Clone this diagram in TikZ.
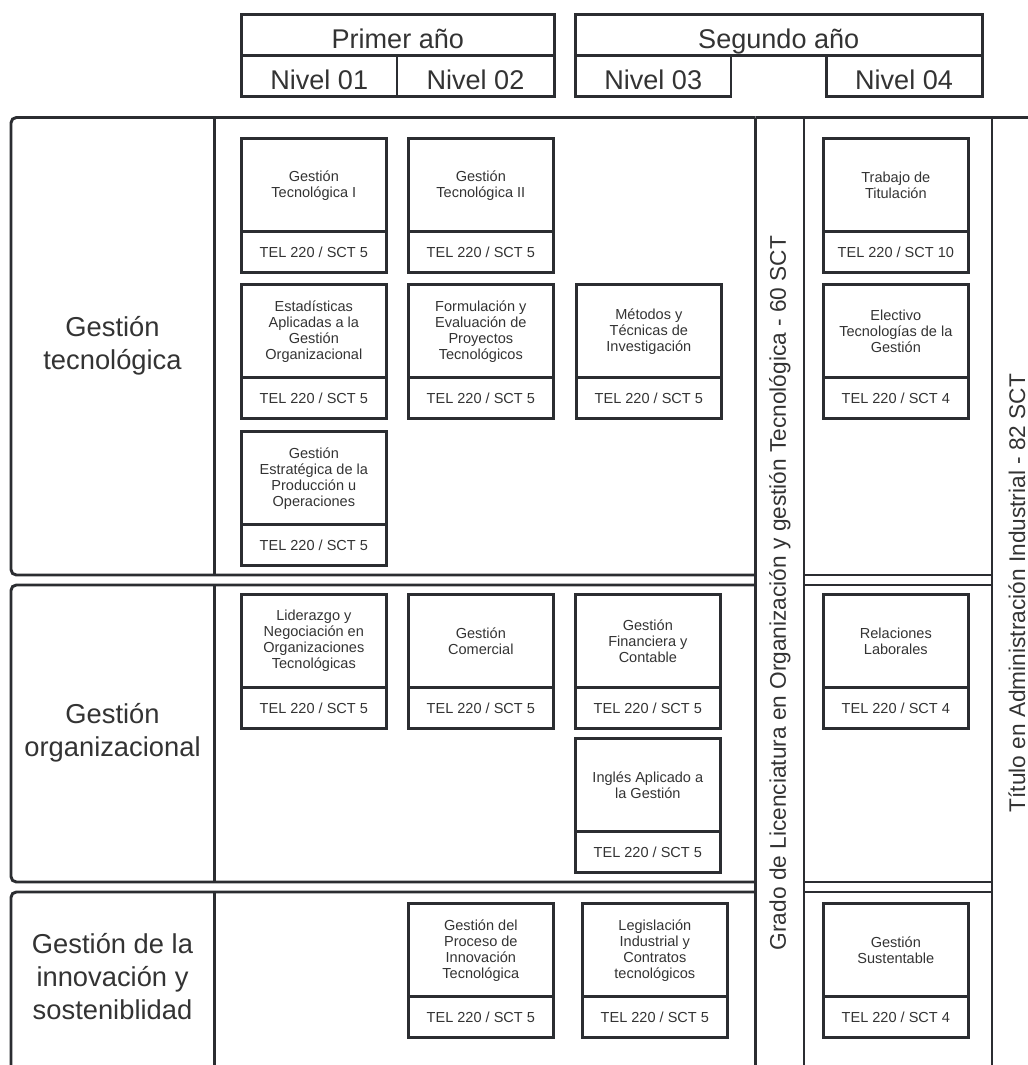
\documentclass[tikz,border=0pt]{standalone}
\usepackage{fontspec}
\setmainfont{Liberation Sans}
\usetikzlibrary{positioning}
\definecolor{linea}{HTML}{2B2D31}
\definecolor{texto}{HTML}{333333}
\newcommand{\curso}[5]
{
	\node[titulo] at (#2, #3) (#1){#4};
	\node[creditos, below=0pt of #1] (#1c){#5};
}

\begin{document}
\begin{tikzpicture}[x=0.75pt, y=-0.75pt,
	line width=2.2pt, draw=linea,
	every node/.append style={draw=linea, line width=2.2pt, text=texto,
		outer sep=0pt, inner sep=0pt},
	anio/.style={anchor=north west, minimum height=30.4pt, text height=21pt, text depth=0pt,
		font=\fontsize{20.3}{24}\selectfont},
	nivel/.style={anchor=north west, minimum height=30.75pt, text height=21pt, text depth=0pt,
		font=\fontsize{20.3}{24}\selectfont},
	titulo/.style={anchor=north west, minimum width=108.5pt, minimum height=70pt,
		align=center, font=\fontsize{10.9}{12}\selectfont},
	creditos/.style={minimum width=108.5pt, minimum height=30.75pt,
		font=\fontsize{10.9}{12}\selectfont},
	eje/.style={draw=none, align=center, font=\fontsize{20.5}{24.75}\selectfont},
	grado/.style={draw=none, rotate=90, font=\fontsize{17}{20}\selectfont}]

	\clip (0,0) rectangle (1028,1065);

	\node[anio, minimum width=234.4pt] at (241.5, 14.5) (pa){Primer año};
	\node[nivel, minimum width=116.6pt] at (pa.south west) (n1){Nivel 01};
	\node[nivel, minimum width=117.8pt] at (n1.north east) (n2){Nivel 02};
	\node[anio, minimum width=304.9pt] at (575.5, 14.5) (sa){Segundo año};
	\node[nivel, minimum width=116.6pt] at (sa.south west) (n3){Nivel 03};
	\node[nivel, anchor=north east, minimum width=117pt] at (sa.south east) (n4){Nivel 04};

	\draw (755.5,117.5) [rounded corners=4pt] -- (11,117.5) -- (11,575) -- (755.5,575);
	\draw (755.5,585) [rounded corners=4pt] -- (11,585) -- (11,882) -- (755.5,882);
	\draw (755.5,892) [rounded corners=4pt] -- (11,892) -- (11,1090) -- (755.5,1090);
	\draw (214.5,117.5) -- (214.5,575);
	\draw (214.5,585) -- (214.5,882);
	\draw (214.5,892) -- (214.5,1090);
	\draw (755.5,117.5) -- (1040,117.5);
	\draw (755.5,117.5) -- (755.5,1090);
	\draw (804,117.5) -- (804,1090);
	\draw (992,117.5) -- (992,1090);
	\draw (804,575) -- (992,575);
	\draw (804,585) -- (992,585);
	\draw (804,882) -- (992,882);
	\draw (804,892) -- (992,892);

	\node[eje] at (112.5, 346) (ejeA){Gestión\\tecnológica};
	\node[eje] at (112.5, 733) (ejeB){Gestión\\organizacional};
	\node[eje] at (112.5, 977) (ejeC){Gestión de la\\innovación y\\sosteniblidad};

	\node[grado] at (780, 593) (lic){Grado de Licenciatura en Organización y gestión Tecnológica - 60 SCT};
	\node[grado] at (1017, 593) (tit){Título en Administración Industrial - 82 SCT};

	\curso{gt1}{241.5}{138.5}{Gestión\\Tecnológica I}{TEL 220 / SCT 5};
	\curso{gt2}{408.5}{138.5}{Gestión\\Tecnológica II}{TEL 220 / SCT 5};
	\curso{tt}{823.5}{138.5}{Trabajo de\\Titulación}{TEL 220 / SCT 10};
	\curso{ea}{241.5}{284.5}{Estadísticas\\Aplicadas a la\\Gestión\\Organizacional}{TEL 220 / SCT 5};
	\curso{fe}{408.5}{284.5}{Formulación y\\Evaluación de\\Proyectos\\Tecnológicos}{TEL 220 / SCT 5};
	\curso{mt}{576.5}{284.5}{Métodos y\\Técnicas de\\Investigación}{TEL 220 / SCT 5};
	\curso{et}{823.5}{284.5}{Electivo\\Tecnologías de la\\Gestión}{TEL 220 / SCT 4};
	\curso{ge}{241.5}{431.5}{Gestión\\Estratégica de la\\Producción u\\Operaciones}{TEL 220 / SCT 5};

	\curso{ln}{241.5}{594.5}{Liderazgo y\\Negociación en\\Organizaciones\\Tecnológicas}{TEL 220 / SCT 5};
	\curso{gc}{408.5}{594.5}{Gestión\\Comercial}{TEL 220 / SCT 5};
	\curso{gf}{575.5}{594.5}{Gestión\\Financiera y\\Contable}{TEL 220 / SCT 5};
	\curso{rl}{823.5}{594.5}{Relaciones\\Laborales}{TEL 220 / SCT 4};
	\curso{ia}{575.5}{738.5}{Inglés Aplicado a\\la Gestión}{TEL 220 / SCT 5};

	\curso{gp}{408.5}{903.5}{Gestión del\\Proceso de\\Innovación\\Tecnológica}{TEL 220 / SCT 5};
	\curso{li}{582.5}{903.5}{Legislación\\Industrial y\\Contratos\\tecnológicos}{TEL 220 / SCT 5};
	\curso{gs}{823.5}{903.5}{Gestión\\Sustentable}{TEL 220 / SCT 4};
\end{tikzpicture}
\end{document}
